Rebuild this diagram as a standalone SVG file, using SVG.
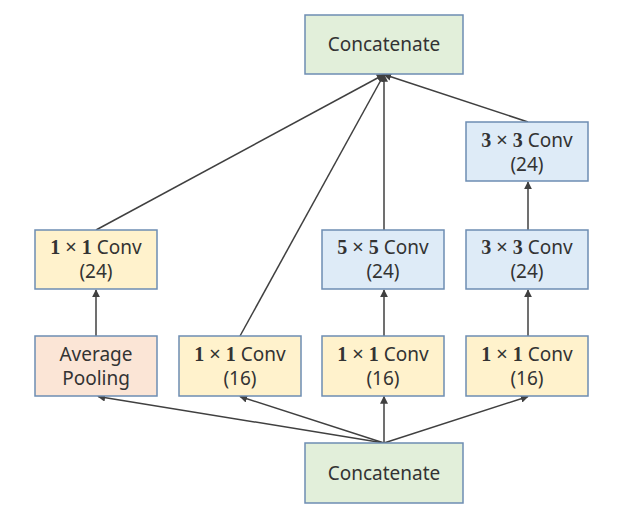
<svg xmlns="http://www.w3.org/2000/svg" width="619" height="516" viewBox="0 0 619 516">
<defs>
<marker id="ah" viewBox="0 0 10 10" refX="9" refY="5" markerWidth="8" markerHeight="8" markerUnits="userSpaceOnUse" orient="auto">
<path d="M0,0 L10,5 L0,10 z" fill="#404040"/>
</marker>
<style>
rect{stroke:#6d8db3;stroke-width:1.5}
.g{fill:#e2efda}.y{fill:#fff2cc}.p{fill:#fbe5d6}.b{fill:#deebf7}
text{font-family:"Noto Sans","Open Sans",sans-serif;font-size:19px;fill:#333;text-anchor:middle}
.m{font-family:"Liberation Serif",serif;font-weight:bold;font-size:20px}
.x{font-family:"Noto Sans",sans-serif;font-weight:normal}
#edges line{stroke:#404040;stroke-width:1.5;marker-end:url(#ah)}
</style>
</defs>
<rect width="619" height="516" fill="#fff" style="stroke:none"/>
<g id="edges">
<line x1="384" y1="443" x2="98" y2="396.5"/>
<line x1="384" y1="443" x2="240" y2="396.5"/>
<line x1="384" y1="443" x2="384" y2="396.5"/>
<line x1="384" y1="443" x2="528" y2="396.5"/>
<line x1="96" y1="336" x2="96" y2="290"/>
<line x1="384" y1="336" x2="384" y2="290"/>
<line x1="528" y1="336" x2="528" y2="290"/>
<line x1="528" y1="230" x2="528" y2="182"/>
<line x1="96" y1="230" x2="384" y2="74.5"/>
<line x1="240" y1="336" x2="384" y2="74.5"/>
<line x1="384" y1="230" x2="384" y2="74.5"/>
<line x1="528" y1="122" x2="384" y2="74.5"/>
</g>
<g id="concat_top"><rect class="g" x="305" y="15" width="158" height="59"/><text x="384" y="51">Concatenate</text></g>
<g id="concat_bottom"><rect class="g" x="305" y="443" width="158" height="60"/><text x="384" y="480">Concatenate</text></g>
<g id="avgpool"><rect class="p" x="35" y="336" width="122" height="60"/><text x="96" y="361">Average</text><text x="96" y="385">Pooling</text></g>
<g id="conv1_pool"><rect class="y" x="35" y="230" width="122" height="59"/><text x="96" y="254"><tspan class="m">1 <tspan class="x">×</tspan> 1</tspan> Conv</text><text x="96" y="278">(24)</text></g>
<g id="conv1_a"><rect class="y" x="179" y="336" width="122" height="60"/><text x="240" y="361"><tspan class="m">1 <tspan class="x">×</tspan> 1</tspan> Conv</text><text x="240" y="385">(16)</text></g>
<g id="conv1_b"><rect class="y" x="322" y="336" width="122" height="60"/><text x="383" y="361"><tspan class="m">1 <tspan class="x">×</tspan> 1</tspan> Conv</text><text x="383" y="385">(16)</text></g>
<g id="conv1_c"><rect class="y" x="466" y="336" width="122" height="60"/><text x="527" y="361"><tspan class="m">1 <tspan class="x">×</tspan> 1</tspan> Conv</text><text x="527" y="385">(16)</text></g>
<g id="conv5"><rect class="b" x="322" y="230" width="122" height="59"/><text x="383" y="254"><tspan class="m">5 <tspan class="x">×</tspan> 5</tspan> Conv</text><text x="383" y="278">(24)</text></g>
<g id="conv3_a"><rect class="b" x="466" y="230" width="122" height="59"/><text x="527" y="254"><tspan class="m">3 <tspan class="x">×</tspan> 3</tspan> Conv</text><text x="527" y="278">(24)</text></g>
<g id="conv3_b"><rect class="b" x="466" y="122" width="122" height="59"/><text x="527" y="147"><tspan class="m">3 <tspan class="x">×</tspan> 3</tspan> Conv</text><text x="527" y="171">(24)</text></g>
</svg>
